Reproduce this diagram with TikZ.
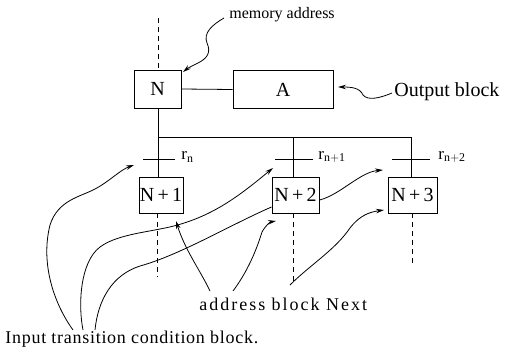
\documentclass[tikz,border=0pt]{standalone}
\usepackage{fontspec}
\setmainfont{Liberation Serif}
\newfontfamily\lsA[LetterSpace=11]{Liberation Serif}
\newfontfamily\lsB[LetterSpace=4]{Liberation Serif}
\usetikzlibrary{arrows.meta}
\begin{document}
\begin{tikzpicture}[x=1pt,y=-1pt,line width=0.8pt,
  blk/.style={draw,line width=0.9pt,inner sep=0pt,font=\fontsize{20}{22}\selectfont},
  lbl/.style={inner sep=0pt,anchor=west},
  rlab/.style={inner sep=0pt,anchor=west,font=\fontsize{17}{19}\selectfont},
  tick/.style={line width=0.8pt},
  dsh/.style={dashed,dash pattern=on 5pt off 4pt},
  pt/.style={-{Stealth[length=8pt,width=4.5pt]}}]
\useasboundingbox (0,0) rectangle (515,351);
% boxes
\node[blk,minimum width=47pt,minimum height=38pt] (N) at (157.5,89) {N};
\node[blk,minimum width=100pt,minimum height=38pt] (A) at (283,89.5) {A};
\node[blk,minimum width=44pt,minimum height=36pt] (N1) at (161,195) {N\,+\,1};
\node[blk,minimum width=47pt,minimum height=36pt] (N2) at (295.5,195) {N\,+\,2};
\node[blk,minimum width=49pt,minimum height=36pt] (N3) at (412.5,195) {N\,+\,3};
% texts
\node[lbl,font=\fontsize{16}{18}\selectfont] (mem) at (229,15) {memory address};
\node[lbl,font=\fontsize{20}{22}\selectfont] (out) at (394,92) {Output block};
\node[lbl,font=\lsA\fontsize{18}{20}\selectfont] (addr) at (199,304) {address block Next};
\node[lbl,font=\lsB\fontsize{18}{20}\selectfont] (inp) at (5,339) {Input transition condition block.};
% connectors
\coordinate (top) at (158,18);
\draw[dsh] (top) -- (top |- N.north);
\draw (N.east) -- (A.west);
\coordinate (bus) at (158,137);
\coordinate (b2) at (293,137);
\coordinate (b3) at (411,137);
\draw (N.south -| bus) -- (bus |- N1.north);
\draw (bus) -- (b3);
\draw (b2) -- (b2 |- N2.north);
\draw (b3) -- (b3 |- N3.north);
% ticks
\draw[tick] (143,159) -- (175,159);
\draw[tick] (275,159) -- (313,159);
\draw[tick] (392,159) -- (430,159);
\node[rlab] (rn) at (181,157) {r$_{\mathrm{n}}$};
\node[rlab] (rn1) at (318,157) {r$_{\mathrm{n+1}}$};
\node[rlab] (rn2) at (438,157) {r$_{\mathrm{n+2}}$};
% dashed lines below
\coordinate (d1) at (157,277);
\coordinate (d2) at (293,283);
\coordinate (d3) at (412,264);
\draw[dsh] (N1.south -| d1) -- (d1);
\draw[dsh] (N2.south -| d2) -- (d2);
\draw[dsh] (N3.south -| d3) -- (d3);
% memory address pointer
\draw[pt] (224,18) .. controls (212,25) and (203,33) .. (207,43)
  .. controls (211,52) and (208,58) .. (198,63) .. controls (192,66) and (188,68) .. (183,72);
% output pointer
\draw[pt] (392,93) .. controls (380,98) and (368,101) .. (363,95)
  .. controls (360,88) and (352,87) .. (338,87);
% input transition condition pointers
\draw[pt] (73,330) .. controls (55,305) and (40,265) .. (50,225)
  .. controls (58,200) and (80,197) .. (95,189) .. controls (110,181) and (120,170) .. (134,165);
\draw[pt] (83,330) .. controls (78,305) and (80,262) .. (100,247)
  .. controls (115,236) and (140,233) .. (160,229) .. controls (210,220) and (240,195) .. (273,168);
\draw (95,330) .. controls (98,300) and (112,275) .. (140,266)
  .. controls (180,255) and (230,225) .. (N2.west |- 0,207);
\draw[pt] (N2.east |- 0,200) .. controls (340,195) and (360,172) .. (383,170);
% address block pointers
\draw[pt] (210,291) .. controls (200,270) and (185,250) .. (176,221);
\draw[pt] (233,291) .. controls (245,275) and (255,255) .. (262,232)
  .. controls (266,225) and (270,222) .. (276,221);
\draw[pt] (290,285) .. controls (310,265) and (335,250) .. (350,228)
  .. controls (360,215) and (370,212) .. (384,210);
\end{tikzpicture}
\end{document}
